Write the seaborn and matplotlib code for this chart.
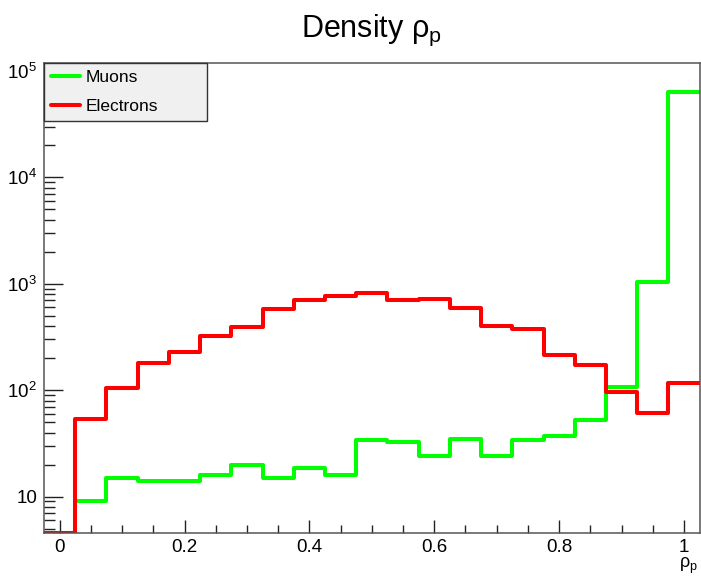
import numpy as np
import pandas as pd
import matplotlib
matplotlib.use("Agg")
import matplotlib.pyplot as plt
from matplotlib.lines import Line2D
from matplotlib import ticker
import seaborn as sns

# Bin centres of the rho_p histogram (bin width 0.05)
bin_centers = [0.00, 0.05, 0.10, 0.15, 0.20, 0.25, 0.30, 0.35, 0.40, 0.45, 0.50,
               0.55, 0.60, 0.65, 0.70, 0.75, 0.80, 0.85, 0.90, 0.95, 1.00]
bin_width = 0.05

# Entries per bin
muons = [0, 9, 15, 14, 14, 16, 20, 15, 18.7, 16, 34,
         32.7, 24, 35, 24, 34, 37, 53, 107, 1050, 63000]
electrons = [0, 54, 106, 182, 228, 325, 396, 578, 705, 760, 812,
             710, 725, 590, 400, 373, 212, 172, 96, 61.5, 117]

series_names = ["Muons", "Electrons"]
series_colors = ["#00ff00", "#ff0000"]

sns.set_style("white")
plt.rcParams["font.family"] = ["Liberation Sans", "DejaVu Sans"]
plt.rcParams["mathtext.default"] = "regular"
plt.rcParams["text.color"] = "black"
plt.rcParams["axes.labelcolor"] = "black"

fig = plt.figure(figsize=(7.01, 5.76), dpi=100)
ax = fig.add_axes([0.0628, 0.0738, 0.9352, 0.8162])

edges = [round(i * bin_width - bin_width / 2, 3) for i in range(len(bin_centers) + 1)]
y_floor = 4.5  # empty bins sit on the lower edge of the log axis
y_top = 1.18e5

for name, vals, col in zip(series_names, [muons, electrons], series_colors):
    df = pd.DataFrame({
        "rho": bin_centers,
        "entries": np.maximum(np.array(vals, float), y_floor),
    })
    sns.histplot(data=df, x="rho", weights="entries",
                 bins=edges, element="step", fill=False, color=col,
                 linewidth=2.9, ax=ax)

ax.set_yscale("log")
ax.set_xlim(edges[0], edges[-1])
ax.set_ylim(y_floor, y_top)

# Axis ticks
ax.xaxis.set_major_locator(ticker.MultipleLocator(0.2))
ax.xaxis.set_minor_locator(ticker.MultipleLocator(0.05))
ax.xaxis.set_major_formatter(ticker.FuncFormatter(lambda v, p: f"{v:g}"))
ax.yaxis.set_major_locator(ticker.LogLocator(base=10, numticks=10))
ax.yaxis.set_minor_locator(ticker.LogLocator(base=10, subs=np.arange(2, 10), numticks=20))
ax.yaxis.set_minor_formatter(ticker.NullFormatter())


def log_label(v, pos):
    n = int(round(np.log10(v)))
    return "10" if n == 1 else rf"$\mathregular{{10^{{{n}}}}}$"


ax.yaxis.set_major_formatter(ticker.FuncFormatter(log_label))

ax.tick_params(axis="x", which="major", direction="in", length=9.5, width=1,
               labelsize=13.5, pad=4, color="#222222", labelcolor="black",
               bottom=True, top=False)
ax.tick_params(axis="x", which="minor", direction="in", length=5.5, width=1,
               color="#222222", bottom=True, top=False)
ax.tick_params(axis="y", which="major", direction="in", length=13.5, width=1,
               labelsize=13.5, pad=5, color="#222222", labelcolor="black",
               left=True, right=False)
ax.tick_params(axis="y", which="minor", direction="in", length=8, width=1,
               color="#222222", left=True, right=False)

for s in ax.spines.values():
    s.set_linewidth(1.1)
    s.set_color("#555555")
    s.set_visible(True)

ax.set_ylabel("")
ax.set_xlabel("ρ$_{p}$", fontsize=13, loc="right", color="black")
ax.xaxis.set_label_coords(0.998, -0.047)
ax.set_title("Density ρ$_{p}$", fontsize=22, y=1.057, pad=0,
             va="baseline", color="black")
ax.grid(False)

handles = [Line2D([], [], color=c, linewidth=2.9) for c in series_colors]
leg = ax.legend(handles, series_names, loc="upper left",
                bbox_to_anchor=(0, 0, 0.249, 1.0), mode="expand",
                borderaxespad=0, fontsize=12.5, handlelength=1.7,
                handletextpad=0.3, labelspacing=0.75, borderpad=0.4,
                fancybox=False, framealpha=1, facecolor="#f0f0f0",
                edgecolor="#333333")
leg.get_frame().set_linewidth(1.0)
for t in leg.get_texts():
    t.set_color("black")

fig.savefig("out.png", dpi=100)
